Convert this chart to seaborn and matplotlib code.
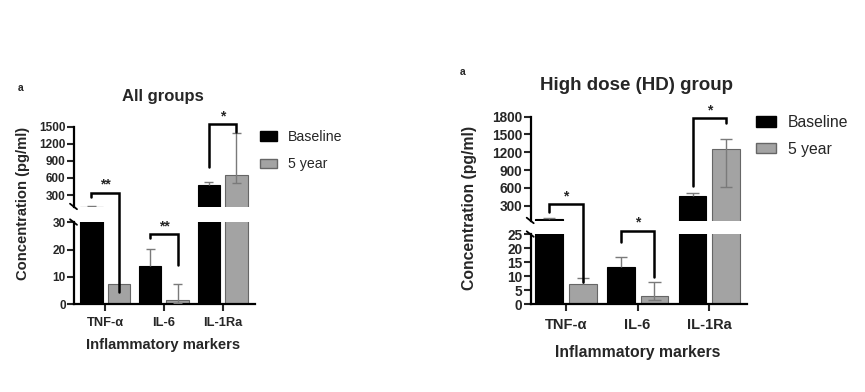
import matplotlib
matplotlib.use("Agg")
import matplotlib.pyplot as plt
import seaborn as sns
import numpy as np
import pandas as pd
from matplotlib.lines import Line2D

# ---- data ----
markers = ["TNF-α", "IL-6", "IL-1Ra"]
times = ["Baseline", "5 year"]

# All groups
all_baseline = [88, 14.0, 476]
all_baseline_err_lo = [0, 0, 0]
all_baseline_err_hi = [22, 6.1, 55]
all_5year = [7.3, 1.6, 651]
all_5year_err_lo = [0, 1.0, 146]
all_5year_err_hi = [0, 5.7, 733]

# High dose group
hd_baseline = [70, 13.4, 469]
hd_baseline_err_lo = [0, 0, 0]
hd_baseline_err_hi = [18, 3.4, 51]
hd_5year = [7.25, 3.1, 1255]
hd_5year_err_lo = [0, 1.6, 635]
hd_5year_err_hi = [2.05, 5.0, 174]

# significance brackets: (marker, label)
all_sig = [("TNF-α", "**"), ("IL-6", "**"), ("IL-1Ra", "*")]
hd_sig = [("TNF-α", "*"), ("IL-6", "*"), ("IL-1Ra", "*")]

W, H = 865, 392
sns.set_style("white")
plt.rcParams['font.family'] = ['Liberation Sans', 'DejaVu Sans']

fig = plt.figure(figsize=(W / 100, H / 100), dpi=100)

BLACK = "#000000"
GREY = "#a3a3a3"
ERR = "#7a7a7a"


def px_axes(x0, x1, ytop, ybot):
    return fig.add_axes([x0 / W, 1 - ybot / H, (x1 - x0) / W, (ybot - ytop) / H])


def to_fig(ax, x, y):
    d = ax.transData.transform((x, y))
    return fig.transFigure.inverted().transform(d)


def px(x, y):
    return (x / W, 1 - y / H)


def draw_errors(ax, cont, vals, lo, hi, cap):
    for b, v, l, h in zip(cont, vals, lo, hi):
        xc = b.get_x() + b.get_width() / 2
        hw = b.get_width() * cap
        if h > 0 or l > 0:
            ax.vlines(xc, v - l, v + h, color=ERR, lw=1.0, zorder=3)
        if h > 0:
            ax.hlines(v + h, xc - hw, xc + hw, color=ERR, lw=1.0, zorder=3)
        if l > 0:
            ax.hlines(v - l, xc - hw, xc + hw, color=ERR, lw=1.0, zorder=3)


def make_panel(cfg):
    df = pd.DataFrame({
        "marker": markers * 2,
        "time": [times[0]] * 3 + [times[1]] * 3,
        "value": cfg["base"] + cfg["five"],
    })
    ax_up = px_axes(*cfg["up_box"])
    ax_lo = px_axes(*cfg["lo_box"])
    for ax, ylim in [(ax_up, cfg["up_lim"]), (ax_lo, cfg["lo_lim"])]:
        sns.barplot(data=df, x="marker", y="value", hue="time",
                    palette=[BLACK, GREY], width=0.94, gap=0.18,
                    errorbar=None, legend=False, ax=ax, order=markers,
                    hue_order=times, saturation=1)
        for bar in ax.containers[0]:
            bar.set_edgecolor(BLACK)
            bar.set_linewidth(0.8)
        for bar in ax.containers[1]:
            bar.set_edgecolor("#666666")
            bar.set_linewidth(0.8)
        draw_errors(ax, ax.containers[0], cfg["base"], cfg["base_lo"],
                    cfg["base_hi"], cfg["cap"])
        draw_errors(ax, ax.containers[1], cfg["five"], cfg["five_lo"],
                    cfg["five_hi"], cfg["cap"])
        ax.set_ylim(*ylim)
        ax.set_xlim(*cfg["xlim"])
        ax.set_xlabel("")
        ax.set_ylabel("")
        for s in ["top", "right"]:
            ax.spines[s].set_visible(False)
        for s in ["left", "bottom"]:
            ax.spines[s].set_linewidth(1.6)
            ax.spines[s].set_color("black")
        ax.tick_params(axis="y", direction="out", length=5, width=1.5,
                       left=True, pad=1, labelsize=cfg["tick_fs"])
    ax_up.spines["bottom"].set_visible(False)
    ax_up.set_xticks([])
    ax_up.set_yticks(cfg["up_ticks"])
    ax_lo.set_yticks(cfg["lo_ticks"])
    for ax in (ax_up, ax_lo):
        for lab in ax.get_yticklabels():
            lab.set_fontweight("bold")
            lab.set_fontsize(cfg["tick_fs"])
    ax_lo.tick_params(axis="x", direction="out", length=5, width=1.5,
                      bottom=True, pad=cfg["xpad"], labelsize=cfg["xtick_fs"])
    for lab in ax_lo.get_xticklabels():
        lab.set_fontweight("bold")

    # break marks on the y spine
    for ax, yfrac in [(ax_up, 0), (ax_lo, 1)]:
        sx, sy = ax.transAxes.transform((0, yfrac))
        sy = H - sy
        fx0, fy0 = px(sx - 4, sy - 3)
        fx1, fy1 = px(sx + 3, sy + 2.5)
        fig.add_artist(Line2D([fx0, fx1], [fy0, fy1], color="black", lw=1.3))

    # significance brackets
    for (m, label), (yt, lleg, rleg) in zip(cfg["sig"], cfg["sig_geom"]):
        i = markers.index(m)
        xl = ax_lo.containers[0][i].get_x() + ax_lo.containers[0][i].get_width() / 2
        xr = ax_lo.containers[1][i].get_x() + ax_lo.containers[1][i].get_width() / 2
        axes_map = {"up": ax_up, "lo": ax_lo}
        tx0, ty = to_fig(axes_map[yt[0]], xl, yt[1])
        tx1, _ = to_fig(axes_map[yt[0]], xr, yt[1])
        _, ly = to_fig(axes_map[lleg[0]], xl, lleg[1])
        _, ry = to_fig(axes_map[rleg[0]], xr, rleg[1])
        fig.add_artist(Line2D([tx0, tx0, tx1, tx1], [ly, ty, ty, ry],
                              color="black", lw=1.8, solid_joinstyle="miter"))
        fig.text((tx0 + tx1) / 2, ty + 1 / H, label, ha="center", va="bottom",
                 fontsize=cfg["star_fs"], fontweight="bold")

    # texts
    fig.text(*px(*cfg["title_xy"]), cfg["title"], ha="center", va="center",
             fontsize=cfg["title_fs"], fontweight="bold")
    fig.text(*px(*cfg["ylab_xy"]), "Concentration (pg/ml)", rotation=90,
             ha="center", va="center", fontsize=cfg["lab_fs"], fontweight="bold")
    fig.text(*px(*cfg["xlab_xy"]), "Inflammatory markers", ha="center",
             va="center", fontsize=cfg["lab_fs"], fontweight="bold")
    fig.text(*px(*cfg["a_xy"]), "a", ha="left", va="center", fontsize=7.5,
             fontweight="bold")

    handles = [plt.Rectangle((0, 0), 1, 1, facecolor=BLACK, edgecolor=BLACK),
               plt.Rectangle((0, 0), 1, 1, facecolor=GREY, edgecolor="#666666")]
    fig.legend(handles, times, loc="upper left",
               bbox_to_anchor=px(*cfg["leg_xy"]), frameon=False,
               fontsize=cfg["leg_fs"], handlelength=cfg["leg_hl"],
               handleheight=0.65, handletextpad=0.75,
               labelspacing=cfg["leg_sp"], borderaxespad=0, borderpad=0)


panels = [
    dict(base=all_baseline, base_lo=all_baseline_err_lo, base_hi=all_baseline_err_hi,
         five=all_5year, five_lo=all_5year_err_lo, five_hi=all_5year_err_hi,
         up_box=(74, 255, 126.7, 206.7), lo_box=(74, 255, 222.3, 304.3),
         up_lim=(95, 1500), lo_lim=(0, 30), xlim=(-0.53, 2.55),
         up_ticks=[300, 600, 900, 1200, 1500], lo_ticks=[0, 10, 20, 30],
         tick_fs=8.5, xtick_fs=9.3, xpad=4, cap=0.2, star_fs=10,
         sig=all_sig,
         sig_geom=[(("up", 340), ("up", 270), ("lo", 4.6)),
                   (("lo", 25.7), ("lo", 24.2), ("lo", 14.4)),
                   (("up", 1547), ("up", 797), ("up", 1411))],
         title="All groups", title_xy=(163, 96.7), title_fs=12,
         ylab_xy=(23, 203), xlab_xy=(163, 345), lab_fs=10.6, a_xy=(18, 88),
         leg_xy=(260, 130), leg_fs=10.2, leg_sp=0.95, leg_hl=1.2),
    dict(base=hd_baseline, base_lo=hd_baseline_err_lo, base_hi=hd_baseline_err_hi,
         five=hd_5year, five_lo=hd_5year_err_lo, five_hi=hd_5year_err_hi,
         up_box=(530.7, 746.7, 116.7, 220.7), lo_box=(530.7, 746.7, 234.3, 304.3),
         up_lim=(47, 1800), lo_lim=(0, 25), xlim=(-0.49, 2.52),
         up_ticks=[300, 600, 900, 1200, 1500, 1800], lo_ticks=[0, 5, 10, 15, 20, 25],
         tick_fs=9.8, xtick_fs=10.5, xpad=5, cap=0.22, star_fs=10,
         sig=hd_sig,
         sig_geom=[(("up", 324), ("up", 199), ("lo", 8.1)),
                   (("lo", 26.3), ("lo", 22.4), ("lo", 9.9)),
                   (("up", 1773), ("up", 632), ("up", 1688))],
         title="High dose (HD) group", title_xy=(636.7, 85), title_fs=13.5,
         ylab_xy=(470, 208), xlab_xy=(638, 352.7), lab_fs=11.3, a_xy=(460, 72),
         leg_xy=(756, 115), leg_fs=11.3, leg_sp=0.75, leg_hl=1.3),
]

for cfg in panels:
    make_panel(cfg)

fig.savefig("out.png", dpi=100)
